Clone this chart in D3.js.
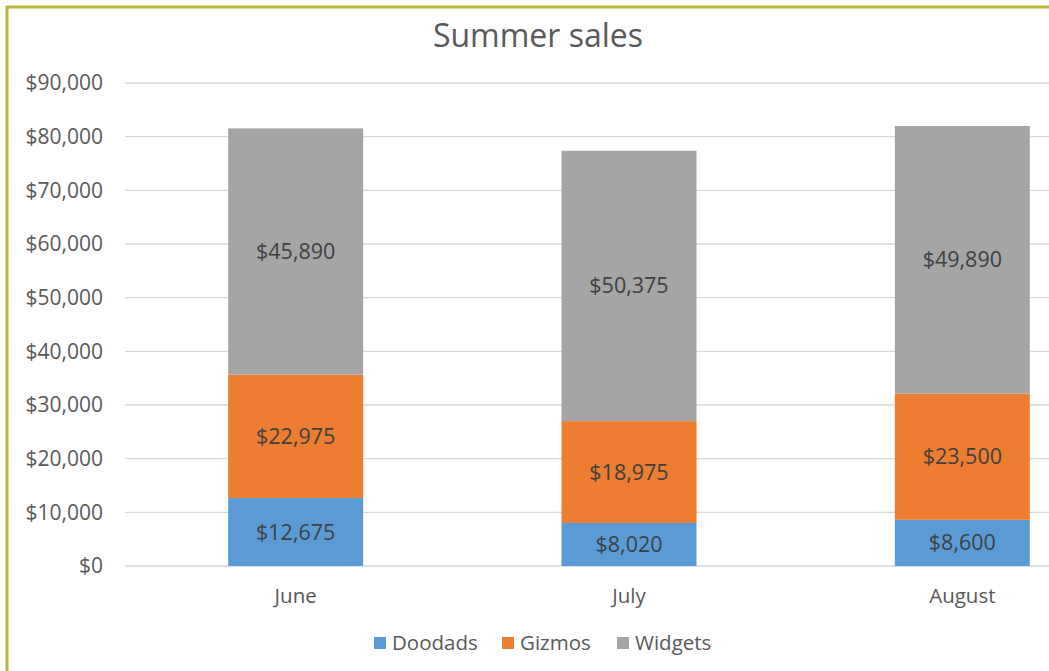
<!DOCTYPE html>
<html>
<head>
<meta charset="utf-8">
<script src="https://cdn.jsdelivr.net/npm/d3@7"></script>
<style>
  body { margin: 0; background: #fff; }
  text { font-family: "Open Sans", "Noto Sans", sans-serif; }
</style>
</head>
<body>
<svg width="1049" height="671"></svg>
<script>
var months = ["June", "July", "August"];
var seriesNames = ["Doodads", "Gizmos", "Widgets"];
var doodads = [12675, 8020, 8600];
var gizmos = [22975, 18975, 23500];
var widgets = [45890, 50375, 49890];
var yTicks = [0, 10000, 20000, 30000, 40000, 50000, 60000, 70000, 80000, 90000];
var colors = ["#5b9bd5", "#ed7d31", "#a5a5a5"];

var svg = d3.select("svg"),
    width = +svg.attr("width"),
    height = +svg.attr("height");

// frame (only top and left edges show in the crop)
svg.append("line").attr("x1", 6).attr("x2", width).attr("y1", 7).attr("y2", 7)
    .attr("stroke", "#b9b83a").attr("stroke-width", 3);
svg.append("line").attr("x1", 7).attr("x2", 7).attr("y1", 6).attr("y2", height)
    .attr("stroke", "#b9b83a").attr("stroke-width", 3);

var rows = months.map(function (m, i) {
    return { month: m, Doodads: doodads[i], Gizmos: gizmos[i], Widgets: widgets[i] };
});
var stack = d3.stack().keys(seriesNames)(rows);

var x = d3.scaleBand()
    .domain(months)
    .range([129, 1129])
    .paddingInner(0.595)
    .paddingOuter(0.2975);

var y = d3.scaleLinear()
    .domain([0, 90000])
    .range([566, 83]);

var color = d3.scaleOrdinal().domain(seriesNames).range(colors);
var money = function (v) { return "$" + d3.format(",")(v); };

// gridlines
svg.append("g")
    .selectAll("line")
    .data(yTicks)
    .enter().append("line")
    .attr("x1", 125).attr("x2", width)
    .attr("y1", function (d) { return y(d); })
    .attr("y2", function (d) { return y(d); })
    .attr("stroke", "#d9d9d9").attr("stroke-width", 1.3);

// y axis labels
var yAxis = svg.append("g")
    .attr("transform", "translate(103,0)")
    .call(d3.axisLeft(y).tickValues(yTicks).tickSize(0).tickPadding(0).tickFormat(money));
yAxis.select(".domain").remove();
yAxis.selectAll("text")
    .attr("font-size", 21).attr("fill", "#595959")
    .style("font-family", "'Open Sans', 'Noto Sans', sans-serif");

// x axis labels
var xAxis = svg.append("g")
    .attr("transform", "translate(0,588)")
    .call(d3.axisBottom(x).tickSize(0).tickPadding(0));
xAxis.select(".domain").remove();
xAxis.selectAll("text")
    .attr("font-size", 20.5).attr("fill", "#595959")
    .style("font-family", "'Open Sans', 'Noto Sans', sans-serif");

// bars
var layers = svg.append("g").selectAll("g")
    .data(stack)
    .enter().append("g")
    .attr("fill", function (d) { return color(d.key); });

layers.selectAll("rect")
    .data(function (d) { return d; })
    .enter().append("rect")
    .attr("x", function (d) { return x(d.data.month); })
    .attr("width", x.bandwidth())
    .attr("y", function (d) { return y(d[1]); })
    .attr("height", function (d) { return y(d[0]) - y(d[1]); });

// data labels
layers.selectAll("text")
    .data(function (d) { return d; })
    .enter().append("text")
    .attr("x", function (d) { return x(d.data.month) + x.bandwidth() / 2; })
    .attr("y", function (d) { return (y(d[0]) + y(d[1])) / 2; })
    .attr("dy", "0.35em")
    .attr("text-anchor", "middle")
    .attr("font-size", 21.5)
    .attr("fill", "#404040")
    .text(function (d) { return money(d[1] - d[0]); });

// title
svg.append("text")
    .attr("x", 538).attr("y", 47)
    .attr("text-anchor", "middle")
    .attr("font-size", 32)
    .attr("fill", "#595959")
    .text("Summer sales");

// legend
var legendX = [374, 502, 617];
var legend = svg.append("g").selectAll("g")
    .data(seriesNames)
    .enter().append("g")
    .attr("transform", function (d, i) { return "translate(" + legendX[i] + ",637)"; });
legend.append("rect")
    .attr("width", 12).attr("height", 12)
    .attr("fill", function (d) { return color(d); });
legend.append("text")
    .attr("x", 18).attr("y", 6).attr("dy", "0.35em")
    .attr("font-size", 20.5).attr("fill", "#595959")
    .text(function (d) { return d; });
</script>
</body>
</html>
